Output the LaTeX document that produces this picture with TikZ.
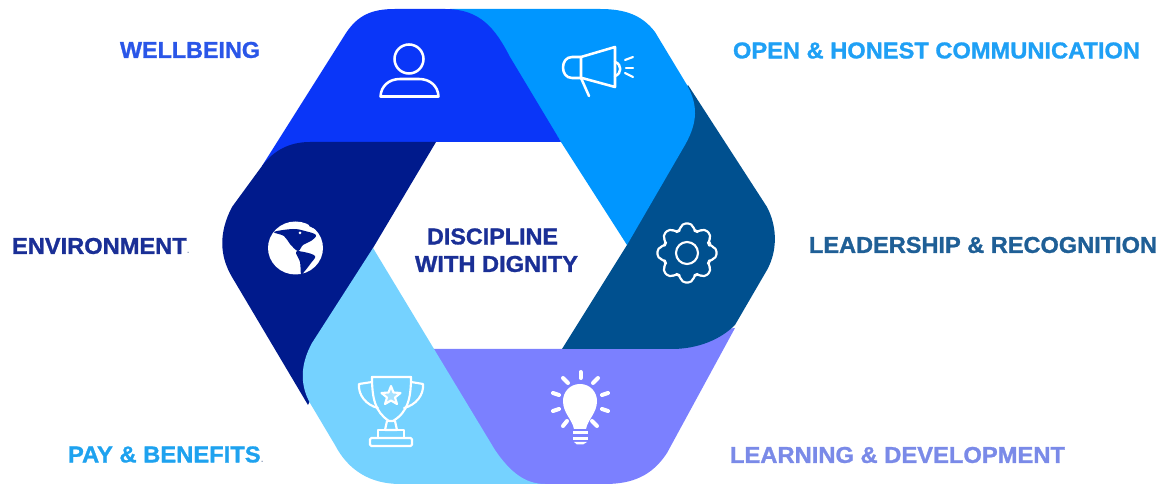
\documentclass[tikz,border=0pt]{standalone}
\usepackage{fontspec}
\usepackage{graphicx}
\setmainfont[BoldFeatures={FakeBold=1.2}]{Liberation Sans}
\newlength{\pxu}\setlength{\pxu}{0.75pt}
\definecolor{cblue}{HTML}{0A36F8}
\definecolor{clight}{HTML}{0096FF}
\definecolor{cdark}{HTML}{00508F}
\definecolor{cperi}{HTML}{7B80FF}
\definecolor{csky}{HTML}{75D2FF}
\definecolor{cnavy}{HTML}{001A8C}
\definecolor{twell}{HTML}{2A56E8}
\definecolor{topen}{HTML}{1FA0F5}
\definecolor{tenv}{HTML}{1A2F96}
\definecolor{tlead}{HTML}{1F5F96}
\definecolor{tpay}{HTML}{1EA2EF}
\definecolor{tlearn}{HTML}{7A8AE8}
\definecolor{tdot}{HTML}{8090B0}
\newcommand{\lbl}[3]{\resizebox{#1\pxu}{#2\pxu}{\bfseries #3}}
\newcommand{\tinydot}{{\fontsize{5}{5}\selectfont\mdseries\color{tdot}.}}
\tikzset{
  lab/.style={anchor=west,inner sep=0pt,outer sep=0pt},
  iconline/.style={draw=white,line width=1.9pt,line join=round,line cap=round},
  iconthin/.style={draw=white,line width=1.6pt,line join=round,line cap=round},
  ray/.style={draw=white,line width=3pt,line cap=round}
}
\begin{document}
\begin{tikzpicture}[x=0.75pt,y=-0.75pt]
\useasboundingbox (0,0) rectangle (1165,484);
% ribbons, painted so that each lies over its neighbour as in the picture
\fill[cperi] (430,349) -- (600,349) -- (700,332) -- (735,328) -- (667,453) .. controls (652,476) and (632,484) .. (605,484) -- (500,484) -- cycle;
\fill[cdark] (562,349) -- (672,349) .. controls (697,349) and (720,340) .. (735,325) -- (767,270) .. controls (777,252) and (778,228) .. (767,207) -- (688,85) -- (640,150) -- (627,245) -- cycle;
\fill[clight] (627,245) -- (685,145) .. controls (698,122) and (698,105) .. (687,85) -- (655,32) .. controls (642,15) and (625,9) .. (600,9) -- (450,9) -- (500,50) -- (561,142) -- cycle;
\fill[cblue] (561,142) -- (510,57) .. controls (495,28) and (480,9) .. (445,9) -- (395,9) .. controls (372,9) and (358,15) .. (346,33) -- (262,166) -- (320,160) -- (320,142) -- cycle;
\fill[cnavy] (436,142) -- (373,248) -- (340,340) -- (308,405) -- (232,277) .. controls (219,255) and (219,232) .. (232,207) -- (262,166) .. controls (274,150) and (290,142) .. (310,142) -- cycle;
\fill[csky] (373,248) -- (495,450) .. controls (510,472) and (525,484) .. (545,484) -- (400,484) .. controls (370,484) and (348,470) .. (335,445) -- (310,403) .. controls (300,385) and (300,365) .. (312,343) -- cycle;
% person
\draw[iconline] (409,59) circle (14.5);
\draw[iconline] (380.5,96.5) -- (438.5,96.5) .. controls (438,86) and (430,79) .. (419,79) -- (400,79) .. controls (389,79) and (381,86) .. (380.5,96.5) -- cycle;
% megaphone
\draw[iconline] (615,47) -- (615,87) -- (582,78) -- (572,78) .. controls (560,78) and (560,57) .. (572,57) -- (581,57) -- cycle;
\draw[iconline] (581,57) -- (581,78) -- (589,96);
\draw[iconline] (615,62) .. controls (622,64) and (622,74) .. (615,76);
\draw[iconthin] (625,60) -- (633,57);
\draw[iconthin] (626,68) -- (633,68);
\draw[iconthin] (625,73) -- (633,77);
% gear
\begin{scope}[shift={(687,253)}]
\draw[iconthin,rounded corners=3] (-17:23.5)
  \foreach \a in {0,45,...,315} { -- (\a-10:30) -- (\a+10:30) -- (\a+17:23.5) -- (\a+28:23.5) } -- cycle;
\draw[iconthin] (0,0) circle (11);
\end{scope}
% globe
\fill[white] (295.5,248) ellipse (27.5 and 26.5);
\fill[cnavy] plot[smooth cycle,tension=0.6] coordinates {(274,232) (293,229) (305,231) (316,235) (311,241) (303,245) (298,251) (290,244) (284,236)};
\fill[cnavy] (309,226) -- (326,234) -- (325,225) -- (312,219) -- cycle;
\fill[white] (300,233) circle (1.5);
\fill[cnavy] plot[smooth cycle,tension=0.6] coordinates {(296,252) (304,252) (315,256) (311,263) (304,272) (301,274) (300,262)};
% trophy
\draw[iconthin] (372,377) -- (411,377) .. controls (411,398) and (408,412) .. (393,421) -- (389,421) .. controls (375,412) and (372,398) .. (372,377) -- cycle;
\draw[iconthin] (372,382) -- (359,384) .. controls (358,395) and (366,405) .. (378,408);
\draw[iconthin] (411,382) -- (423,384) .. controls (424,395) and (416,405) .. (404,408);
\draw[iconthin] (387,421) -- (385,430) -- (397,430) -- (395,421);
\draw[iconthin] (378,430) rectangle (404,438);
\draw[iconthin,rounded corners=1] (370,438) rectangle (412,446);
\draw[iconthin,fill=white,fill opacity=0.35] (391,386) -- (393.5,392.5) -- (400.5,393) -- (395,397.5) -- (397,404) -- (391,400.5) -- (385,404) -- (387,397.5) -- (381.5,393) -- (388.5,392.5) -- cycle;
% light bulb
\fill[white] (574,429) .. controls (572,419) and (563,413) .. (563,401) .. controls (563,392) and (570,384) .. (580,384) .. controls (590,384) and (597,392) .. (597,401) .. controls (597,413) and (588,419) .. (586,429) -- cycle;
\fill[white] (573,431) rectangle (588,434);
\fill[white] (573,437) rectangle (588,440);
\fill[white] (574,442) -- (587,442) -- (583,444.5) -- (577,444.5) -- cycle;
\draw[ray] (580.5,372) -- (580.5,378);
\draw[ray] (563,378) -- (568,383);
\draw[ray] (598,378) -- (593,383);
\draw[ray] (553,393) -- (559,395);
\draw[ray] (608,393) -- (602,395);
\draw[ray] (553,411) -- (559,409);
\draw[ray] (608,411) -- (602,409);
\draw[ray] (563,426) -- (567,421);
\draw[ray] (597,426) -- (592,421);
% labels
\node[lab] (wellbeing) at (120,50) {\lbl{140}{16}{\color{twell}WELLBEING}};
\node[lab] (open) at (733,50.5) {\lbl{407}{16}{\color{topen}OPEN \& HONEST COMMUNICATION}};
\node[lab] (environment) at (12,246) {\lbl{178}{16}{\color{tenv}ENVIRONMENT\tinydot}};
\node[lab] (leadership) at (809,245) {\lbl{348}{16}{\color{tlead}LEADERSHIP \& RECOGNITION}};
\node[lab] (pay) at (68,454.5) {\lbl{196}{16}{\color{tpay}PAY \& BENEFITS\tinydot}};
\node[lab] (learning) at (730,455) {\lbl{335}{16}{\color{tlearn}LEARNING \& DEVELOPMENT}};
\node[lab] (discipline) at (427,236.5) {\lbl{131}{16}{\color{tenv}DISCIPLINE}};
\node[lab] (dignity) at (415,264) {\lbl{163}{16}{\color{tenv}WITH DIGNITY}};
\end{tikzpicture}
\end{document}
